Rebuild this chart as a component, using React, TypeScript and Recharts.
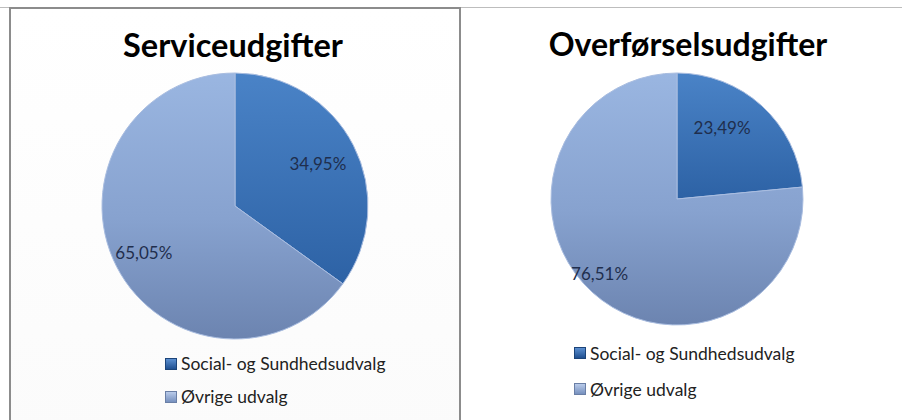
import { Cell, Legend, Pie, PieChart } from "recharts";

const categories = ["Social- og Sundhedsudvalg", "Øvrige udvalg"];
const serviceValues = [34.95, 65.05];
const overfoerselValues = [23.49, 76.51];
const titles = ["Serviceudgifter", "Overførselsudgifter"];

const RADIAN = Math.PI / 180;
const FONT = "Lato, 'Open Sans', sans-serif";

function formatPct(v: number) {
  return v.toFixed(2).replace(".", ",") + "%";
}

// label placement: radius factor and angle nudge per slice (Excel "best fit")
function makeLabel(factors: number[], nudges: number[]) {
  return (props: any) => {
    const { cx, cy, midAngle, outerRadius, index, value } = props;
    const r = outerRadius * factors[index];
    const a = (midAngle + nudges[index]) * RADIAN;
    const x = cx + r * Math.cos(-a);
    const y = cy + r * Math.sin(-a);
    return (
      <text
        x={x}
        y={y}
        fill="#1f2e4d"
        fontFamily={FONT}
        fontSize={17}
        textAnchor="middle"
        dominantBaseline="central"
      >
        {formatPct(value)}
      </text>
    );
  };
}

function LegendBox({ gap }: { gap: number }) {
  return (
    <div style={{ fontFamily: FONT, fontSize: 17.5, color: "#222" }}>
      {categories.map((name, i) => (
        <div key={name} style={{ display: "flex", alignItems: "center", height: gap }}>
          <span
            style={{
              width: 10,
              height: 10,
              marginRight: 4,
              background:
                i === 0
                  ? "linear-gradient(#5b8fd0, #1f4f90)"
                  : "linear-gradient(#b9cbea, #7690be)",
              border: "1px solid " + (i === 0 ? "#1c4479" : "#6a7fa6"),
            }}
          />
          {name}
        </div>
      ))}
    </div>
  );
}

function Chart({
  id,
  values,
  title,
  width,
  height,
  cx,
  cy,
  radius,
  factors,
  nudges,
  legendLeft,
  legendTop,
  legendGap,
  titleTop,
  titleSize,
  titleCenter,
}: any) {
  const data = categories.map((name, i) => ({ name, value: values[i] }));
  return (
    <div style={{ position: "relative", width, height }}>
      <div
        style={{
          position: "absolute",
          left: titleCenter - 200,
          width: 400,
          top: titleTop,
          textAlign: "center",
          fontFamily: FONT,
          fontWeight: 700,
          fontSize: titleSize,
          color: "#000",
        }}
      >
        {title}
      </div>
      <PieChart
        width={width}
        height={height}
        margin={{ top: 0, right: 0, bottom: 0, left: 0 }}
        style={{ position: "absolute", left: 0, top: 0 }}
      >
        <defs>
          <linearGradient id={id + "-dark"} x1="0" y1="0" x2="0" y2="1">
            <stop offset="0%" stopColor="#4a83c7" />
            <stop offset="100%" stopColor="#2d62a5" />
          </linearGradient>
          <linearGradient id={id + "-light"} x1="0" y1="0" x2="0" y2="1">
            <stop offset="0%" stopColor="#9ab6e1" />
            <stop offset="55%" stopColor="#87a2cf" />
            <stop offset="100%" stopColor="#6c84b0" />
          </linearGradient>
        </defs>
        <Pie
          data={data}
          dataKey="value"
          nameKey="name"
          cx={cx}
          cy={cy}
          outerRadius={radius}
          startAngle={90}
          endAngle={-270}
          stroke="#a9bde0"
          strokeWidth={1}
          labelLine={false}
          label={makeLabel(factors, nudges)}
          isAnimationActive={false}
        >
          <Cell fill={`url(#${id}-dark)`} />
          <Cell fill={`url(#${id}-light)`} />
        </Pie>
        <Legend
          content={() => <LegendBox gap={legendGap} />}
          wrapperStyle={{ position: "absolute", left: legendLeft, top: legendTop, width: "auto" }}
        />
      </PieChart>
    </div>
  );
}

export default function App() {
  return (
    <div style={{ position: "absolute", left: 0, top: 0, width: 902, height: 420, background: "#fff", overflow: "hidden" }}>
      <div style={{ position: "absolute", left: 0, top: 7, width: 902, height: 0, borderTop: "1px solid #bdbdbd" }} />
      <div
        style={{
          position: "absolute",
          left: 9,
          top: 7,
          width: 452,
          height: 430,
          border: "2px solid #8c8c8c",
          borderBottom: "none",
          boxSizing: "border-box",
          background: "linear-gradient(#ffffff, #fbfbfb)",
        }}
      >
        <Chart
          id="svc"
          values={serviceValues}
          title={titles[0]}
          width={448}
          height={413}
          cx={224}
          cy={197}
          radius={133}
          factors={[0.7, 0.77]}
          nudges={[0, 0]}
          legendLeft={154}
          legendTop={338}
          legendGap={33}
          titleTop={16}
          titleSize={32.5}
          titleCenter={222}
        />
      </div>
      <div style={{ position: "absolute", left: 463, top: 8, width: 439, height: 412 }}>
        <Chart
          id="ovf"
          values={overfoerselValues}
          title={titles[1]}
          width={439}
          height={412}
          cx={214}
          cy={191}
          radius={126}
          factors={[0.67, 0.85]}
          nudges={[10, -4]}
          legendLeft={111}
          legendTop={327}
          legendGap={36}
          titleTop={16}
          titleSize={32}
          titleCenter={225}
        />
      </div>
    </div>
  );
}
